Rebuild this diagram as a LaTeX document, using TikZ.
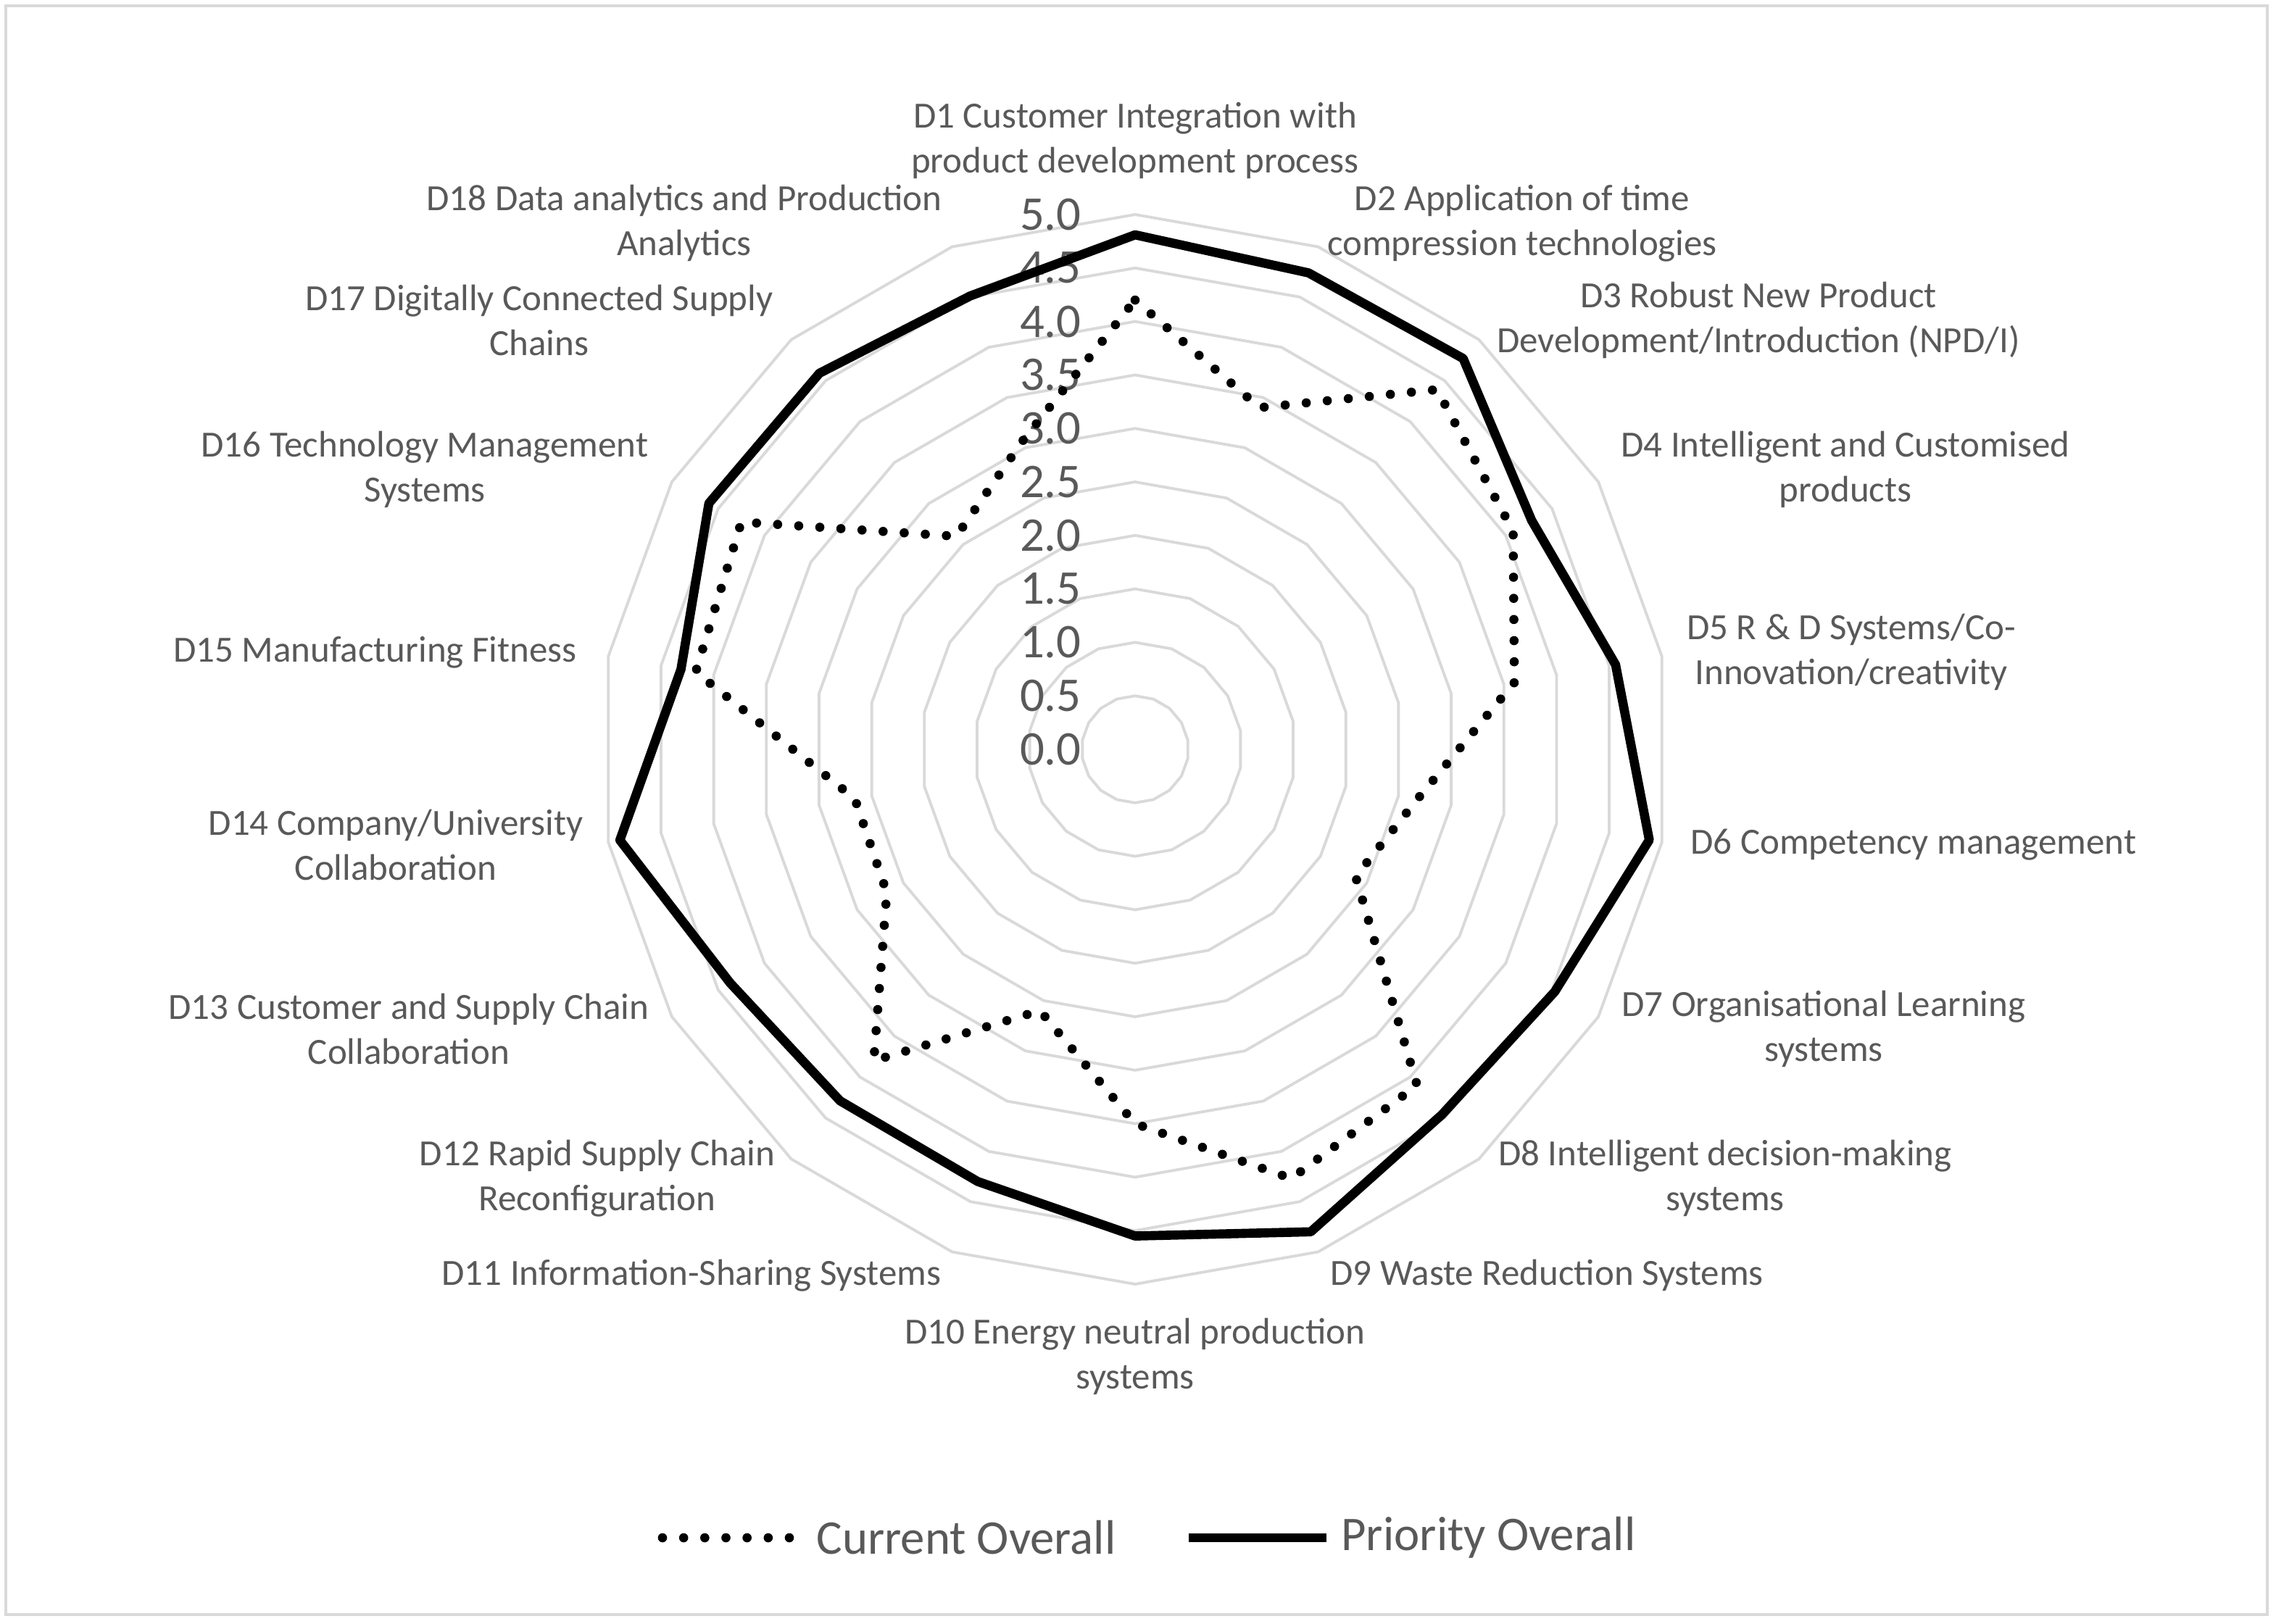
\documentclass[tikz,border=0pt]{standalone}
\usepackage{fontspec}
\setmainfont{Carlito}
\definecolor{txt}{RGB}{89,89,89}
\definecolor{grid}{RGB}{217,217,217}
\begin{document}
\begin{tikzpicture}[x=0.02cm,y=-0.02cm,
  lab/.style={text=txt,font=\fontsize{14.5}{17.5}\selectfont,align=center},
  num/.style={text=txt,font=\fontsize{19}{21}\selectfont,anchor=east},
  cur/.style={line width=3.6pt,line cap=round,dash pattern=on 0pt off 8.3pt},
  pri/.style={line width=3.6pt,line join=round}]
\useasboundingbox (0,0) rectangle (1570,1120);
\draw[grid,line width=1.2pt] (4,4) rectangle (1564,1114);
% rings
\foreach \k in {1,...,10}{
  \draw[grid,line width=1.1pt] ({783},{517-36.9*\k}) \foreach \a in {20,40,...,340}{ -- ({783+36.9*\k*sin(\a)},{517-36.9*\k*cos(\a)}) } -- cycle;
}
% axis numbers
\foreach \k/\t in {0/0.0,1/0.5,2/1.0,3/1.5,4/2.0,5/2.5,6/3.0,7/3.5,8/4.0,9/4.5,10/5.0}
  \node[num] (n\k) at (752,{517-36.9*\k}) {\t};
% data
\foreach \v [count=\i] in {4.81,4.74,4.77,4.28,4.56,4.88,4.53,4.46,4.8,4.55,4.3,4.29,4.37,4.89,4.31,4.6,4.59,4.51}
  \coordinate (p\i) at ({783+73.8*\v*sin(20*(\i-1))},{517-73.8*\v*cos(20*(\i-1))});
\foreach \v [count=\i] in {4.2,3.4,4.39,4.08,3.6,2.68,2.38,4.1,4.27,3.5,2.6,3.8,2.68,2.66,4.17,4.25,2.6,3.07}
  \coordinate (c\i) at ({783+73.8*\v*sin(20*(\i-1))},{517-73.8*\v*cos(20*(\i-1))});
\draw[pri] (p1) \foreach \i in {2,...,18}{ -- (p\i) } -- cycle;
\draw[cur] (c1) \foreach \i in {2,...,18}{ -- (c\i) } -- cycle;
% labels
\node[lab] (l1) at (783,97) {D1 Customer Integration with\\product development process};
\node[lab] (l2) at (1050,154) {D2 Application of time\\compression technologies};
\node[lab] (l3) at (1213,221) {D3 Robust New Product\\Development/Introduction (NPD/I)};
\node[lab] (l4) at (1273,324) {D4 Intelligent and Customised\\products};
\node[lab] (l5) at (1277,450) {D5 R \& D Systems/Co-\\Innovation/creativity};
\node[lab,anchor=west] (l6) at (1160,583) {D6 Competency management};
\node[lab] (l7) at (1258,710) {D7 Organisational Learning\\systems};
\node[lab] (l8) at (1190,813) {D8 Intelligent decision-making\\systems};
\node[lab] (l9) at (1067,880) {D9 Waste Reduction Systems};
\node[lab] (l10) at (783,936) {D10 Energy neutral production\\systems};
\node[lab] (l11) at (477,880) {D11 Information-Sharing Systems};
\node[lab] (l12) at (412,813) {D12 Rapid Supply Chain\\Reconfiguration};
\node[lab] (l13) at (282,710) {D13 Customer and Supply Chain\\Collaboration};
\node[lab] (l14) at (273,583) {D14 Company/University\\Collaboration};
\node[lab,anchor=east] (l15) at (404,450) {D15 Manufacturing Fitness};
\node[lab] (l16) at (293,324) {D16 Technology Management\\Systems};
\node[lab] (l17) at (372,221) {D17 Digitally Connected Supply\\Chains};
\node[lab] (l18) at (472,154) {D18 Data analytics and Production\\Analytics};
% legend
\coordinate (a1) at (457,1061); \coordinate (a2) at (550,1061);
\draw[cur] (a1) -- (a2);
\node[text=txt,font=\fontsize{19}{21}\selectfont,anchor=west] (t1) at (557,1061) {Current Overall};
\coordinate (b1) at (820,1061); \coordinate (b2) at (915,1061);
\draw[pri] (b1) -- (b2);
\node[text=txt,font=\fontsize{19}{21}\selectfont,anchor=west] (t2) at (919,1061) {Priority Overall};
\end{tikzpicture}
\end{document}
